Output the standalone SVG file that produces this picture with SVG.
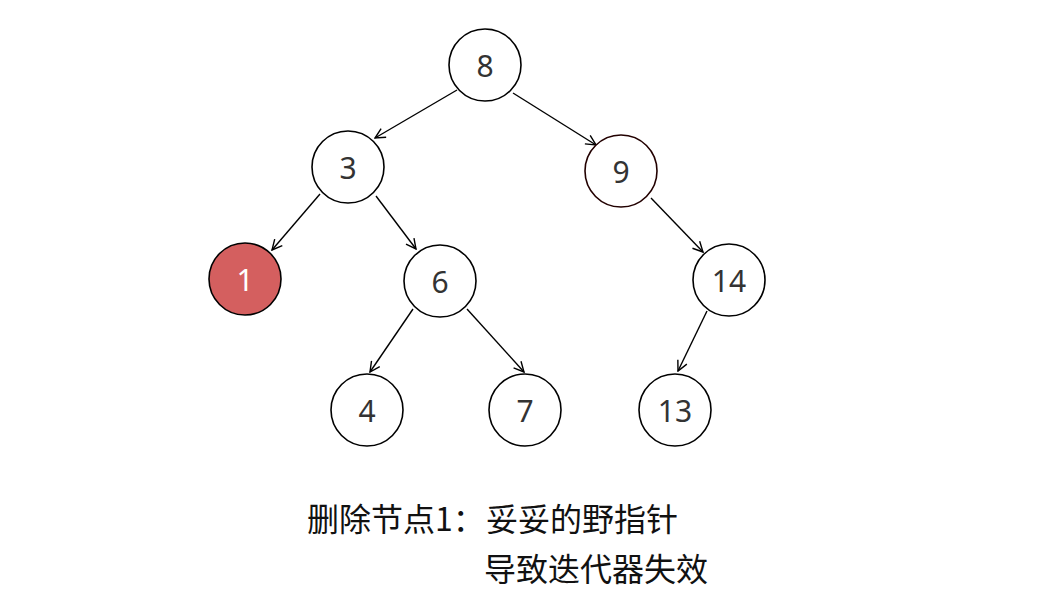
<svg xmlns="http://www.w3.org/2000/svg" width="1053" height="601" viewBox="0 0 1053 601">
<style>
.n circle{fill:#fff;stroke:#000;stroke-width:1.6}
.n text{font-family:"Noto Sans","Noto Sans CJK SC",sans-serif;font-size:30px;fill:#333;text-anchor:middle;dominant-baseline:central}
#edges line{stroke:#000;stroke-width:1.4;marker-end:url(#ah)}
.cap{font-family:"Noto Sans CJK SC","Noto Sans",sans-serif;font-size:32px;fill:#111}
</style>
<defs>
<marker id="ah" viewBox="0 0 12 12" refX="11" refY="6" markerWidth="12" markerHeight="12" markerUnits="userSpaceOnUse" orient="auto">
<path d="M1,1 L11,6 L1,11" fill="none" stroke="#000" stroke-width="1.4"/>
</marker>
</defs>
<rect width="1053" height="601" fill="#fff"/>
<g id="edges">
<line x1="457" y1="90" x2="375" y2="138"/>
<line x1="513" y1="93" x2="596" y2="145"/>
<line x1="320" y1="194" x2="272" y2="250"/>
<line x1="376" y1="196" x2="416" y2="249"/>
<line x1="651" y1="198" x2="703" y2="252"/>
<line x1="413" y1="309" x2="370" y2="372"/>
<line x1="467" y1="309" x2="524" y2="372"/>
<line x1="707" y1="311" x2="678" y2="371"/>
</g>
<g id="n8" class="n"><circle cx="485" cy="65" r="36"/><text x="485" y="65">8</text></g>
<g id="n3" class="n"><circle cx="348" cy="167" r="36"/><text x="348" y="167">3</text></g>
<g id="n9" class="n"><circle cx="621" cy="171" r="36" style="stroke:#200"/><text x="621" y="171">9</text></g>
<g id="n1" class="n"><circle cx="245" cy="279" r="36" style="fill:#d45f5f"/><text x="245" y="279" style="fill:#fff">1</text></g>
<g id="n6" class="n"><circle cx="440" cy="281" r="36"/><text x="440" y="281">6</text></g>
<g id="n14" class="n"><circle cx="729" cy="280" r="36"/><text x="729" y="280">14</text></g>
<g id="n4" class="n"><circle cx="367" cy="410" r="36"/><text x="367" y="410">4</text></g>
<g id="n7" class="n"><circle cx="525" cy="410" r="36"/><text x="525" y="410">7</text></g>
<g id="n13" class="n"><circle cx="675" cy="410" r="36"/><text x="675" y="410">13</text></g>
<g id="caption">
<text class="cap" x="307" y="531">删除节点1：</text>
<text class="cap" x="486" y="531">妥妥的野指针</text>
<text class="cap" x="484" y="581">导致迭代器失效</text>
</g>
</svg>
